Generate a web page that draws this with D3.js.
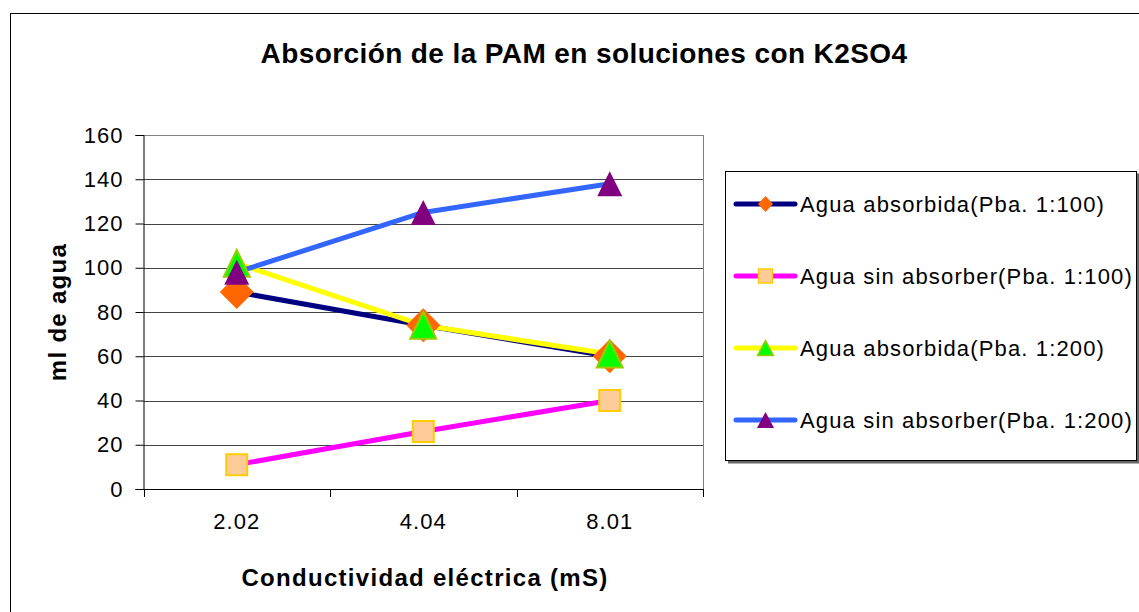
<!DOCTYPE html>
<html>
<head>
<meta charset="utf-8">
<script src="https://cdn.jsdelivr.net/npm/d3@7"></script>
<style>
  body { margin: 0; background: #fff; }
  svg { display: block; font-family: "Liberation Sans", Arial, sans-serif; }
</style>
</head>
<body>
<svg id="chart"></svg>
<script>
const categories = ["2.02", "4.04", "8.01"];
const yTicks = [0, 20, 40, 60, 80, 100, 120, 140, 160];

const seriesNames = [
  "Agua absorbida(Pba. 1:100)",
  "Agua sin absorber(Pba. 1:100)",
  "Agua absorbida(Pba. 1:200)",
  "Agua sin absorber(Pba. 1:200)"
];
const absorbida100 = [89, 74, 60];
const sinAbsorber100 = [11, 26, 40];
const absorbida200 = [102, 74, 61];
const sinAbsorber200 = [98, 125, 138];

const width = 1139;
const height = 612;

const styles = [
  { line: "#000080", marker: "diamond", fill: "#FF6600", stroke: "none", w: 34, h: 34, lw: 15, lh: 16 },
  { line: "#FF00FF", marker: "square", fill: "#FFCC99", stroke: "#FFCC00", w: 21, h: 21, lw: 14, lh: 14 },
  { line: "#FFFF00", marker: "triangle", fill: "#00FF00", stroke: "#99CC00", w: 26, h: 27, lw: 16, lh: 15 },
  { line: "#3366FF", marker: "triangle", fill: "#800080", stroke: "none", w: 25, h: 25, lw: 17, lh: 16 }
];

const seriesValues = [absorbida100, sinAbsorber100, absorbida200, sinAbsorber200];
const series = seriesNames.map((name, i) => ({ name, values: seriesValues[i], style: styles[i] }));

const svg = d3.select("#chart")
  .attr("width", width)
  .attr("height", height);

// outer chart border (runs off the right/bottom edge like the original)
svg.append("rect")
  .attr("x", 10.5).attr("y", 13.5)
  .attr("width", 1200).attr("height", 700)
  .attr("fill", "#fff")
  .attr("stroke", "#000");

const plot = { left: 143.5, right: 703, top: 135, bottom: 489 };

const x = d3.scaleBand()
  .domain(categories)
  .range([plot.left, plot.right]);

const y = d3.scaleLinear()
  .domain([0, 160])
  .range([plot.bottom, plot.top]);

// gridlines
svg.append("g")
  .selectAll("line")
  .data(yTicks.filter(d => d > 0))
  .join("line")
  .attr("x1", plot.left).attr("x2", plot.right)
  .attr("y1", d => Math.round(y(d)) + 0.5).attr("y2", d => Math.round(y(d)) + 0.5)
  .attr("stroke", d => d === 160 ? "#808080" : "#444")
  .attr("stroke-width", 1);

// right plot border
svg.append("line")
  .attr("x1", plot.right + 0.5).attr("x2", plot.right + 0.5)
  .attr("y1", plot.top).attr("y2", plot.bottom)
  .attr("stroke", "#808080");

// y axis
const yAxis = svg.append("g")
  .attr("transform", `translate(${plot.left},0)`)
  .call(d3.axisLeft(y).tickValues(yTicks).tickSize(8).tickPadding(12).tickFormat(d3.format("d")));
yAxis.select(".domain").attr("stroke", "#000");
yAxis.selectAll(".tick line").attr("stroke", "#000");
yAxis.selectAll("text")
  .attr("font-size", 22)
  .attr("letter-spacing", 1)
  .attr("fill", "#000")
  .attr("font-family", "Liberation Sans, Arial, sans-serif");

// x axis with ticks on band boundaries
const xAxis = svg.append("g")
  .attr("transform", `translate(0,${plot.bottom})`)
  .call(d3.axisBottom(x).tickSize(0).tickPadding(24));
xAxis.select(".domain").remove();
xAxis.selectAll("text")
  .attr("font-size", 22)
  .attr("letter-spacing", 1)
  .attr("fill", "#000")
  .attr("font-family", "Liberation Sans, Arial, sans-serif");
svg.append("line")
  .attr("x1", plot.left).attr("x2", plot.right)
  .attr("y1", plot.bottom + 0.5).attr("y2", plot.bottom + 0.5)
  .attr("stroke", "#000");
svg.append("g")
  .selectAll("line")
  .data(categories.map(c => x(c)).concat([plot.right]))
  .join("line")
  .attr("x1", d => Math.round(d) + 0.5).attr("x2", d => Math.round(d) + 0.5)
  .attr("y1", plot.bottom).attr("y2", plot.bottom + 8)
  .attr("stroke", "#000");

const cx = c => x(c) + x.bandwidth() / 2;

// lines first, then markers (as Excel draws them)
const line = d3.line()
  .x((d, i) => cx(categories[i]))
  .y(d => y(d));

svg.append("g")
  .selectAll("path")
  .data(series)
  .join("path")
  .attr("d", d => line(d.values))
  .attr("fill", "none")
  .attr("stroke", d => d.style.line)
  .attr("stroke-width", 5)
  .attr("stroke-linejoin", "round");

function markerPath(type, w, h) {
  if (type === "diamond") {
    return `M0,${-h / 2}L${w / 2},0L0,${h / 2}L${-w / 2},0Z`;
  }
  if (type === "square") {
    return `M${-w / 2},${-h / 2}h${w}v${h}h${-w}Z`;
  }
  return `M0,${-h / 2}L${w / 2},${h / 2}L${-w / 2},${h / 2}Z`;
}

series.forEach(s => {
  svg.append("g")
    .selectAll("path")
    .data(s.values)
    .join("path")
    .attr("transform", (d, i) => `translate(${cx(categories[i])},${y(d)})`)
    .attr("d", markerPath(s.style.marker, s.style.w, s.style.h))
    .attr("fill", s.style.fill)
    .attr("stroke", s.style.stroke)
    .attr("stroke-width", 2);
});

// title and axis labels
svg.append("text")
  .attr("x", 584).attr("y", 63)
  .attr("text-anchor", "middle")
  .attr("font-size", 28)
  .attr("letter-spacing", 0.4)
  .attr("font-weight", "bold")
  .text("Absorción de la PAM en soluciones con K2SO4");

svg.append("text")
  .attr("x", 425).attr("y", 586)
  .attr("text-anchor", "middle")
  .attr("font-size", 24)
  .attr("letter-spacing", 1.3)
  .attr("font-weight", "bold")
  .text("Conductividad eléctrica (mS)");

svg.append("text")
  .attr("transform", "translate(66,312) rotate(-90)")
  .attr("text-anchor", "middle")
  .attr("font-size", 24)
  .attr("letter-spacing", 1.3)
  .attr("font-weight", "bold")
  .text("ml de agua");

// legend
const legend = svg.append("g");
legend.append("rect")
  .attr("x", 728).attr("y", 173.5)
  .attr("width", 412).attr("height", 290)
  .attr("fill", "#666");
legend.append("rect")
  .attr("x", 725.5).attr("y", 171.5)
  .attr("width", 411).attr("height", 289)
  .attr("fill", "#fff")
  .attr("stroke", "#000");

const legendY = d3.scalePoint()
  .domain(seriesNames)
  .range([204, 420]);

const item = legend.selectAll("g.item")
  .data(series)
  .join("g")
  .attr("class", "item")
  .attr("transform", d => `translate(0,${legendY(d.name)})`);

item.append("line")
  .attr("x1", 736).attr("x2", 795)
  .attr("stroke", d => d.style.line)
  .attr("stroke-width", 5)
  .attr("stroke-linecap", "round");

item.append("path")
  .attr("transform", "translate(765.5,0)")
  .attr("d", d => markerPath(d.style.marker, d.style.lw, d.style.lh))
  .attr("fill", d => d.style.fill)
  .attr("stroke", d => d.style.stroke)
  .attr("stroke-width", 1.5);

item.append("text")
  .attr("x", 800).attr("y", 8)
  .attr("font-size", 22)
  .attr("letter-spacing", 1.15)
  .text(d => d.name);
</script>
</body>
</html>
